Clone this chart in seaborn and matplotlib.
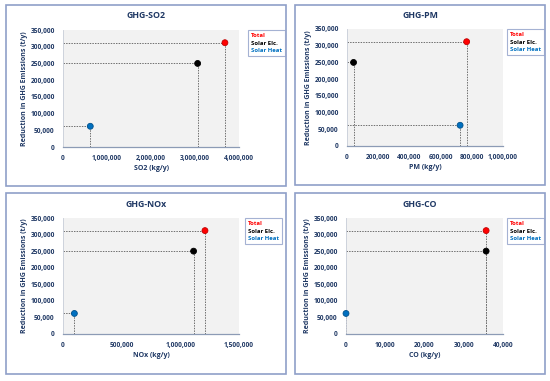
import pandas as pd
import seaborn as sns
import matplotlib.pyplot as plt
from matplotlib.patches import Rectangle
from matplotlib.ticker import FuncFormatter, MultipleLocator

# Daten
series = ["Total", "Solar Elc.", "Solar Heat"]
ghg = [312000, 250000, 62000]
so2 = [3680000, 3060000, 620000]
pm = [767000, 42000, 725000]
nox = [1210000, 1113000, 97000]
co = [35700, 35700, 0]

colors = {"Total": "#ff0000", "Solar Elc.": "#000000", "Solar Heat": "#0070c0"}
edges = ["#c00000", "#000000", "#00508a"]
navy = "#1f3864"
border = "#8f9fc8"

panels = [
    # titel, xlabel, werte, xmax, step, axes-rect (px), panel-rect (px), legend (px)
    ("GHG-SO2", "SO2 (kg/y)", so2, 4000000, 1000000, (63, 147, 239, 30), (6, 5, 286, 186), (248, 30)),
    ("GHG-PM", "PM (kg/y)", pm, 1000000, 200000, (347, 146, 503, 29), (295, 5, 545, 185), (507, 29)),
    ("GHG-NOx", "NOx (kg/y)", nox, 1500000, 500000, (63, 334, 239, 218), (6, 193, 286, 374), (245, 218)),
    ("GHG-CO", "CO (kg/y)", co, 40000, 10000, (346, 334, 503, 218), (295, 193, 545, 374), (507, 218)),
]

sns.set_style("white")
plt.rcParams["font.family"] = ["Open Sans", "DejaVu Sans"]
plt.rcParams["font.weight"] = "bold"

W, H = 550, 381
fig = plt.figure(figsize=(5.5, 3.81), dpi=100)

fmt = FuncFormatter(lambda v, p: f"{int(v):,}")

for title, xlabel, xs, xmax, step, (x0, y0, x1, y1), (px0, py0, px1, py1), (lx, ly) in panels:
    # Rahmen um jedes Diagramm
    fig.add_artist(Rectangle((px0 / W, 1 - py1 / H), (px1 - px0) / W, (py1 - py0) / H,
                             transform=fig.transFigure, fill=False, edgecolor=border, lw=1.2))
    fig.text((px0 + px1) / 2 / W, 1 - (py0 + 11) / H, title, ha="center", va="center",
             fontsize=6.3, fontweight="bold", color=navy)

    ax = fig.add_axes([x0 / W, 1 - y0 / H, (x1 - x0) / W, (y0 - y1) / H])
    ax.set_facecolor("#f2f2f2")
    df = pd.DataFrame({"x": xs, "y": ghg, "serie": series})

    # Hilfslinien zu den Achsen
    for xv, yv in zip(xs, ghg):
        ax.plot([0, xv], [yv, yv], ls=(0, (1.5, 1.2)), color="#6f6f6f", lw=0.7, zorder=2)
        ax.plot([xv, xv], [0, yv], ls=(0, (1.5, 1.2)), color="#6f6f6f", lw=0.7, zorder=2)

    sns.scatterplot(data=df, x="x", y="y", hue="serie", palette=colors, s=18,
                    edgecolor=edges, linewidth=0.6, ax=ax, zorder=3, clip_on=False, legend=False)

    ax.set_xlim(0, xmax)
    ax.set_ylim(0, 350000)
    ax.xaxis.set_major_locator(MultipleLocator(step))
    ax.yaxis.set_major_locator(MultipleLocator(50000))
    ax.xaxis.set_major_formatter(fmt)
    ax.yaxis.set_major_formatter(fmt)
    ax.tick_params(length=0, labelsize=4.8, labelcolor=navy)
    ax.tick_params(axis="x", pad=6)
    ax.tick_params(axis="y", pad=6)
    for lab in ax.get_xticklabels() + ax.get_yticklabels():
        lab.set_fontweight("bold")
    for side in ["top", "right"]:
        ax.spines[side].set_visible(False)
    ax.spines["bottom"].set_color("#8c9bb5")
    ax.spines["left"].set_color("#c8cdd8")
    ax.spines["bottom"].set_linewidth(0.9)
    ax.spines["left"].set_linewidth(0.6)
    ax.set_xlabel(xlabel, fontsize=5, fontweight="bold", color=navy, labelpad=2)
    ax.set_ylabel("Reduction in GHG Emissions (t/y)", fontsize=5, fontweight="bold", color=navy, labelpad=2)

    # Legende nur mit farbigem Text
    handles = [plt.Line2D([], [], lw=0, marker=None) for _ in series]
    leg = fig.legend(handles, series, loc="upper left", bbox_to_anchor=(lx / W, 1 - ly / H),
                     bbox_transform=fig.transFigure, handlelength=0, handletextpad=0,
                     fontsize=4.3, frameon=True, fancybox=False, borderpad=0.5,
                     labelspacing=0.4, borderaxespad=0)
    leg.get_frame().set_edgecolor(border)
    leg.get_frame().set_linewidth(0.8)
    for txt, s in zip(leg.get_texts(), series):
        txt.set_color(colors[s])
        txt.set_fontweight("bold")

plt.savefig("out.png", dpi=100)
plt.close()
